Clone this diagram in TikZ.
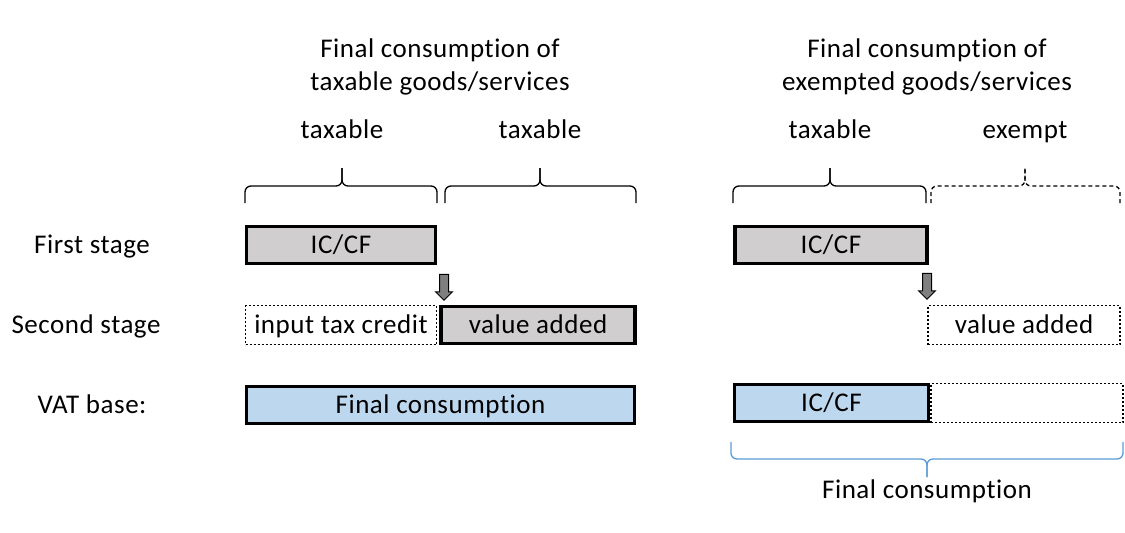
\documentclass[tikz,border=0pt]{standalone}
\usepackage{fontspec}
\setmainfont{Carlito}[LetterSpace=2,Ligatures=NoCommon]
\usetikzlibrary{shapes.arrows}
\definecolor{boxgray}{HTML}{D0CECE}
\definecolor{boxblue}{HTML}{BDD7EE}
\definecolor{arrgray}{HTML}{7F7F7F}
\definecolor{bracblue}{HTML}{5B9BD5}
\tikzset{
  solidbox/.style={draw, line width=3.5pt, minimum height=37pt, inner sep=0pt,
    text height=20pt, text depth=4pt},
  dotbox/.style={draw, line width=1.6pt, dash pattern=on 2pt off 2pt, minimum height=39pt, inner sep=0pt,
    text height=20pt, text depth=4pt},
  downarrow/.style={single arrow, draw, fill=arrgray, line width=1pt, rotate=-90,
    minimum height=26pt, inner sep=4pt, single arrow head extend=4pt},
  brace/.style={line width=1.3pt, rounded corners=6pt},
  txt/.style={inner sep=0pt, text height=20pt, text depth=4pt},
  title/.style={inner sep=0pt, align=center}
}
\begin{document}
\begin{tikzpicture}[x=1pt,y=-1pt,font=\fontsize{27}{33}\selectfont]
\useasboundingbox (0,0) rectangle (1125,533);
% titles
\node[title] (titleL) at (440,66.5) {Final consumption of\\taxable goods/services};
\node[title] (titleR) at (927,66.5) {Final consumption of\\exempted goods/services};
\node[txt] (hdA) at (342,130) {taxable};
\node[txt] (hdB) at (540,130) {taxable};
\node[txt] (hdC) at (830,130) {taxable};
\node[txt] (hdD) at (1025,130) {exempt};
% row labels
\node[txt] (first) at (92,245) {First stage};
\node[txt] (second) at (86,325) {Second stage};
\node[txt] (vatbase) at (92,405) {VAT base:};
% braces
\draw[brace] (245,203) |- (342,186) -- (342,168);
\draw[brace] (437,203) |- (342,186) -- (342,168);
\draw[brace] (445,203) |- (540,186) -- (540,168);
\draw[brace] (636,203) |- (540,186) -- (540,168);
\draw[brace] (733,203) |- (830,186) -- (830,168);
\draw[brace] (926,203) |- (830,186) -- (830,168);
\draw[brace, dash pattern=on 4pt off 3pt] (931,203) |- (1025,186) -- (1025,168);
\draw[brace, dash pattern=on 4pt off 3pt] (1120,203) |- (1025,186) -- (1025,168);
\draw[brace, bracblue] (731,442) |- (927,459) -- (927,477);
\draw[brace, bracblue] (1123,442) |- (927,459) -- (927,477);
% taxable chain
\node[solidbox, fill=boxgray, minimum width=189pt] (icA) at (341,245) {IC/CF};
\node[dotbox, minimum width=191pt] (itc) at (341,325) {input tax credit};
\node[solidbox, fill=boxgray, minimum width=194pt] (vaA) at (538,325) {value added};
\node[solidbox, fill=boxblue, minimum width=388pt] (fcA) at (440.5,405) {Final consumption};
\node[downarrow] (arrA) at (444,285) {};
% exempt chain
\node[solidbox, fill=boxgray, minimum width=192pt] (icB) at (831,245) {IC/CF};
\node[dotbox, minimum width=192pt] (vaB) at (1024,325) {value added};
\node[dotbox, minimum width=192pt] (exB) at (1027,403) {};
\node[solidbox, fill=boxblue, minimum width=194pt] (icC) at (831.5,403) {IC/CF};
\node[downarrow] (arrB) at (927,284) {};
\node[txt] (fcB) at (927,490) {Final consumption};
\end{tikzpicture}
\end{document}
